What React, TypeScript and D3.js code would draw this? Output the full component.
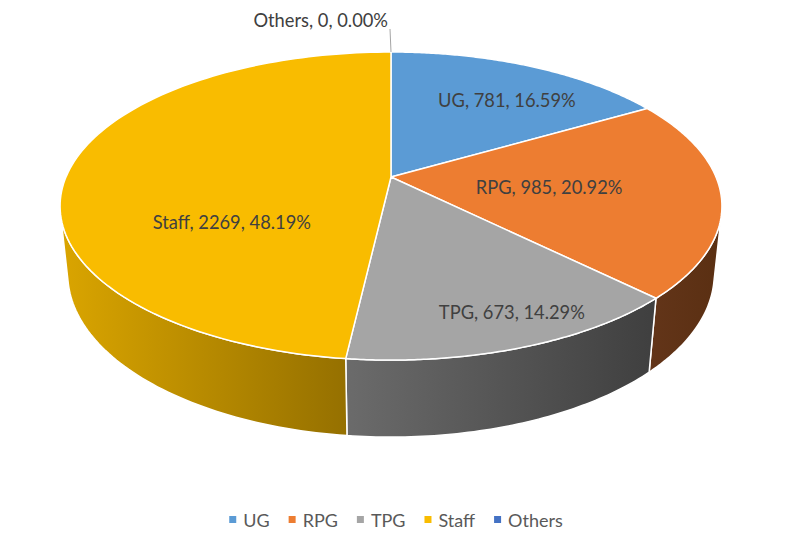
import { useEffect, useRef } from "react";
import * as d3 from "d3";

const categories = ["UG", "RPG", "TPG", "Staff", "Others"];
const values = [781, 985, 673, 2269, 0];
const percentLabels = ["16.59%", "20.92%", "14.29%", "48.19%", "0.00%"];

const topColors = ["#5B9BD5", "#ED7D31", "#A5A5A5", "#F9BC00", "#4472C4"];
const wallColors = [
  ["#3f6f9b", "#34608a"],
  ["#633519", "#5a2f12"],
  ["#6b6b6b", "#3f3f3f"],
  ["#daa500", "#957000"],
  ["#2f528f", "#2f528f"],
];

// where Excel put each in-slice label (fraction of radius, angle in degrees)
const labelRadius = [0.7, 0.485, 0.84, 0.545];
const labelAngle = [34.4, 97.9, 157.8, 238.2];

const width = 800;
const height = 542;

// perspective set-up for the 3D pie
const cx = 391;
const cy = 177;
const focal = 1534;
const dist = 4.72;
const tilt = (27.2 * Math.PI) / 180;
const thick = 0.237;

function project(r: number, theta: number, y = 0): [number, number] {
  const X = r * Math.sin(theta);
  const Z = -r * Math.cos(theta);
  const dep = dist - y * Math.sin(tilt) - Z * Math.cos(tilt);
  const up = y * Math.cos(tilt) - Z * Math.sin(tilt);
  return [cx + (focal * X) / dep, cy - (focal * up) / dep];
}

const App = () => {
  const ref = useRef<SVGSVGElement>(null);

  useEffect(() => {
    const svg = d3.select(ref.current);
    svg.selectAll("*").remove();

    const rows = categories.map((c, i) => ({ label: c, value: values[i], i }));
    const arcs = d3
      .pie<any>()
      .sort(null)
      .value((d) => d.value)(rows);

    const line = d3.line();
    const sample = (a: number, b: number, n = 60) =>
      d3.range(n + 1).map((k) => a + ((b - a) * k) / n);

    // visible part of the outer wall
    const k = Math.acos(-1 / (dist * Math.cos(tilt)));
    const vis0 = k;
    const vis1 = 2 * Math.PI - k;

    const defs = svg.append("defs");
    const walls = svg.append("g");
    const tops = svg.append("g");

    arcs.forEach((a: any) => {
      const i = a.data.i;
      if (a.endAngle - a.startAngle <= 0) return;
      const s = Math.max(a.startAngle, vis0);
      const e = Math.min(a.endAngle, vis1);
      if (e > s) {
        const topPts = sample(s, e).map((t) => project(1, t, 0));
        const botPts = sample(e, s).map((t) => project(1, t, -thick));
        const pts = topPts.concat(botPts);
        const xs = d3.extent(pts, (p) => p[0]) as [number, number];
        const grad = defs
          .append("linearGradient")
          .attr("id", "wall" + i)
          .attr("gradientUnits", "userSpaceOnUse")
          .attr("x1", xs[0])
          .attr("x2", xs[1])
          .attr("y1", 0)
          .attr("y2", 0);
        grad.append("stop").attr("offset", 0).attr("stop-color", wallColors[i][0]);
        grad.append("stop").attr("offset", 1).attr("stop-color", wallColors[i][1]);
        walls
          .append("path")
          .attr("d", line(pts) + "Z")
          .attr("fill", `url(#wall${i})`)
          .attr("stroke", "white")
          .attr("stroke-width", 1.5)
          .attr("stroke-linejoin", "round");
      }
      const face = [project(0, 0, 0)].concat(
        sample(a.startAngle, a.endAngle, 120).map((t) => project(1, t, 0))
      );
      tops
        .append("path")
        .attr("d", line(face) + "Z")
        .attr("fill", topColors[i])
        .attr("stroke", "white")
        .attr("stroke-width", 1.5)
        .attr("stroke-linejoin", "round");
    });

    const font = "Lato, 'Liberation Sans', sans-serif";

    // data labels
    const labels = svg.append("g").attr("font-family", font).attr("font-size", 18.3).attr("fill", "#404040");
    arcs.forEach((a: any) => {
      const i = a.data.i;
      const txt = `${categories[i]}, ${values[i]}, ${percentLabels[i]}`;
      if (i < labelRadius.length) {
        const [x, y] = project(labelRadius[i], (labelAngle[i] * Math.PI) / 180, 0);
        labels
          .append("text")
          .attr("x", x)
          .attr("y", y)
          .attr("text-anchor", "middle")
          .attr("dominant-baseline", "central")
          .text(txt);
      } else {
        const [x, y] = project(1, a.startAngle, 0);
        labels
          .append("line")
          .attr("x1", x)
          .attr("y1", y)
          .attr("x2", x - 1)
          .attr("y2", y - 23)
          .attr("stroke", "#A5A5A5")
          .attr("stroke-width", 1);
        labels
          .append("text")
          .attr("x", x - 3)
          .attr("y", y - 25)
          .attr("text-anchor", "end")
          .text(txt);
      }
    });

    // legend
    const legend = svg.append("g").attr("font-family", font).attr("font-size", 18).attr("fill", "#595959");
    const items = categories.map((c, i) => {
      const g = legend.append("g");
      g.append("rect").attr("x", 0).attr("y", -4).attr("width", 7).attr("height", 7).attr("fill", topColors[i]);
      const t = g.append("text").attr("x", 14).attr("y", 0).attr("dominant-baseline", "central").text(c);
      const w = 14 + (t.node() as SVGTextElement).getComputedTextLength();
      return { g, w };
    });
    const gap = 19;
    const total = d3.sum(items, (d) => d.w) + gap * (items.length - 1);
    let x0 = 396 - total / 2;
    items.forEach((it) => {
      it.g.attr("transform", `translate(${x0},520)`);
      x0 += it.w + gap;
    });
  }, []);

  return (
    <svg
      ref={ref}
      width={width}
      height={height}
      style={{ position: "absolute", left: 0, top: 0, background: "white" }}
    ></svg>
  );
};

export default App;
